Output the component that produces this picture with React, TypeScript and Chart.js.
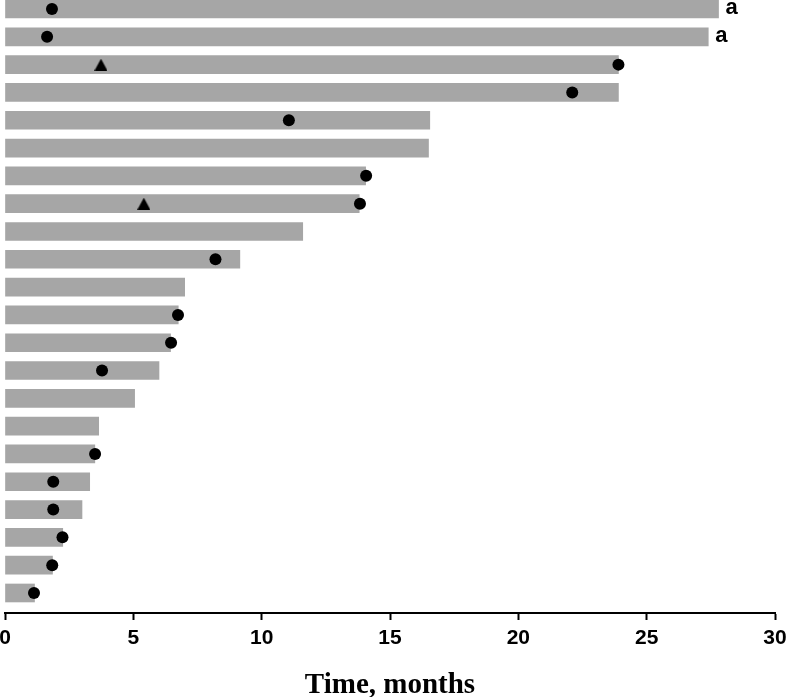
import React, { useEffect, useRef } from "react";
import { Chart, registerables } from "chart.js";

Chart.register(...registerables);

// Patients, top to bottom
const patients = [
  "P1", "P2", "P3", "P4", "P5", "P6", "P7", "P8", "P9", "P10", "P11",
  "P12", "P13", "P14", "P15", "P16", "P17", "P18", "P19", "P20", "P21", "P22",
];
// Duration on treatment, months
const durations = [
  27.8, 27.4, 23.9, 23.9, 16.55, 16.5, 14.05, 13.8, 11.6, 9.15, 7.0,
  6.75, 6.45, 6.0, 5.05, 3.65, 3.5, 3.3, 3.0, 2.25, 1.85, 1.15,
];
// Circle events (months), null = none
const circleEvents: (number | null)[] = [
  1.83, 1.64, 23.9, 22.1, 11.06, null, 14.07, 13.83, null, 8.2, null,
  6.74, 6.47, 3.78, null, null, 3.51, 1.88, 1.88, 2.24, 1.84, 1.13,
];
// Triangle events (months), null = none
const triangleEvents: (number | null)[] = [
  null, null, 3.74, null, null, null, null, 5.41, null, null, null,
  null, null, null, null, null, null, null, null, null, null, null,
];
// Annotations after the bars
const annotations = [
  "a", "a", "", "", "", "", "", "", "", "", "",
  "", "", "", "", "", "", "", "", "", "", "",
];
const xTicks = [0, 5, 10, 15, 20, 25, 30];
const xTitle = "Time, months";

function makeTriangle(): HTMLCanvasElement {
  const c = document.createElement("canvas");
  c.width = 13;
  c.height = 12;
  const g = c.getContext("2d")!;
  g.fillStyle = "#000";
  g.beginPath();
  g.moveTo(6.5, 0);
  g.lineTo(13, 12);
  g.lineTo(0, 12);
  g.closePath();
  g.fill();
  return c;
}

const annotationPlugin = {
  id: "barAnnotations",
  afterDatasetsDraw(chart: any) {
    const meta = chart.getDatasetMeta(0);
    const ctx = chart.ctx;
    ctx.save();
    ctx.fillStyle = "#000";
    ctx.font = "bold 22px 'Liberation Sans', Arial, sans-serif";
    ctx.textBaseline = "middle";
    ctx.textAlign = "left";
    meta.data.forEach((bar: any, i: number) => {
      const t = annotations[i];
      if (t) ctx.fillText(t, bar.x + 7, bar.y - 1);
    });
    ctx.restore();
  },
};

export default function App() {
  const ref = useRef<HTMLCanvasElement>(null);
  useEffect(() => {
    if (!ref.current) return;
    const tri = makeTriangle();
    const barData = patients.map((_, i) => ({ x: durations[i], y: i }));
    const circData = circleEvents
      .map((v, i) => (v == null ? null : { x: v, y: i }))
      .filter((d) => d !== null);
    const triData = triangleEvents
      .map((v, i) => (v == null ? null : { x: v, y: i }))
      .filter((d) => d !== null);
    const chart = new Chart(ref.current, {
      type: "bar",
      data: {
        datasets: [
          {
            type: "bar",
            label: "Duration",
            data: barData as any,
            backgroundColor: "#a6a6a6",
            borderWidth: 0,
            barThickness: 18,
            indexAxis: "y",
            order: 2,
          } as any,
          {
            type: "scatter",
            label: "Circle",
            data: circData as any,
            pointStyle: "circle",
            pointRadius: 6,
            backgroundColor: "#000",
            borderWidth: 0,
            showLine: false,
            order: 1,
          },
          {
            type: "scatter",
            label: "Triangle",
            data: triData as any,
            pointStyle: tri as any,
            pointRadius: 7,
            backgroundColor: "#000",
            borderWidth: 0,
            showLine: false,
            order: 1,
          },
        ],
      },
      options: {
        indexAxis: "y",
        animation: false,
        responsive: false,
        layout: { autoPadding: false, padding: { left: 5, right: 12, top: 0, bottom: 0 } },
        plugins: { legend: { display: false }, tooltip: { enabled: false } },
        scales: {
          y: {
            type: "linear",
            display: false,
            reverse: true,
            offset: false,
            min: -0.324,
            max: 21.72,
          },
          x: {
            type: "linear",
            position: "bottom",
            offset: false,
            min: 0,
            max: 30,
            afterBuildTicks: (scale: any) => {
              scale.ticks = xTicks.map((v) => ({ value: v }));
            },
            afterFit: (scale: any) => {
              scale.height = 84;
              scale.paddingLeft = 0;
              scale.paddingRight = 0;
            },
            border: { display: true, color: "#000", width: 2 },
            grid: {
              display: true,
              drawOnChartArea: false,
              drawTicks: true,
              tickLength: 7,
              tickWidth: 2,
              tickColor: "#000",
              color: "#000",
            },
            ticks: {
              color: "#000",
              padding: 8,
              maxRotation: 0,
              autoSkip: false,
              font: {
                family: "'Liberation Sans', Arial, sans-serif",
                weight: "bold",
                size: 21,
                lineHeight: 1.0,
              },
            },
            title: {
              display: true,
              text: xTitle,
              color: "#000",
              padding: { top: 0, bottom: 0 },
              font: {
                family: "'Liberation Serif', 'Times New Roman', serif",
                weight: "bold",
                size: 29,
                lineHeight: 0.8,
              },
            },
          },
        },
      },
      plugins: [annotationPlugin],
    });
    return () => chart.destroy();
  }, []);
  return (
    <div style={{ position: "absolute", left: 0, top: 0, width: 787, height: 697 }}>
      <canvas ref={ref} width={787} height={697} style={{ display: "block" }} />
    </div>
  );
}
